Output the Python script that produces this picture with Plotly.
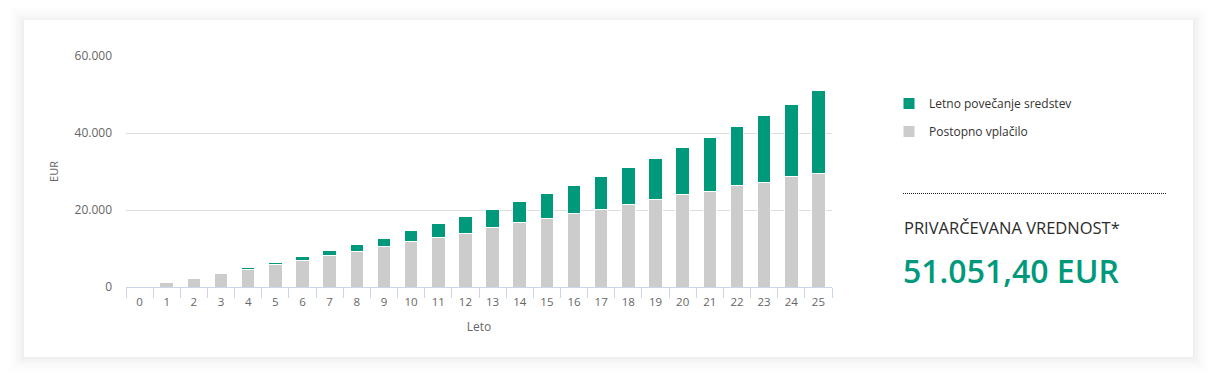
import plotly.graph_objects as go

years = [str(i) for i in range(26)]
vplacilo = [0, 1200, 2250, 3450, 4670, 5870, 7000, 8300, 9330, 10600, 11750, 12970, 14000,
            15560, 16860, 17900, 19200, 20200, 21500, 22600, 23900, 24900, 26300, 27200, 28600, 29570]
povecanje = [0, 0, 0, 0, 430, 500, 950, 1200, 1730, 2000, 2950, 3500, 4300,
             4500, 5300, 6400, 7200, 8500, 9500, 10800, 12300, 13900, 15400, 17300, 18800, 21481]
ytickvals = [0, 20000, 40000, 60000]
yticktext = ["0", "20.000", "40.000", "60.000"]
total_label = "51.051,40 EUR"
title_label = "PRIVARČEVANA VREDNOST*"

W, H = 1225, 386
GREEN = "#00997b"
GRAY = "#cccccc"
FONT = "Open Sans"

def px(x):
    return x / W

def py(y):
    return 1 - y / H

fig = go.Figure()
fig.add_trace(go.Bar(x=years, y=vplacilo, name="Postopno vplačilo", marker_color=GRAY,
                     marker_line_color="white", marker_line_width=1, legendgroup="a",
                     legendrank=2, hoverinfo="x+y"))
fig.add_trace(go.Bar(x=years, y=povecanje, name="Letno povečanje sredstev", marker_color=GREEN,
                     marker_line_color="white", marker_line_width=1, legendgroup="b",
                     legendrank=1, hoverinfo="x+y"))

shapes = []
# card shadow
for i, op in enumerate([0.02, 0.016, 0.012, 0.009, 0.006]):
    d = 2 + i * 3
    shapes.append(dict(type="rect", xref="paper", yref="paper", layer="below",
                       x0=px(24 - d), x1=px(1193 + d), y0=py(357 + d), y1=py(20 - d + 2),
                       fillcolor=f"rgba(0,0,0,{op})", line_width=0))
shapes.append(dict(type="rect", xref="paper", yref="paper", layer="below",
                   x0=px(24), x1=px(1193), y0=py(357), y1=py(20),
                   fillcolor="white", line_width=0))
# dotted separator
shapes.append(dict(type="line", xref="paper", yref="paper",
                   x0=px(903), x1=px(1166), y0=py(193.5), y1=py(193.5),
                   line=dict(color="#222222", width=1, dash="1px,1px")))

annotations = [
    dict(text=title_label, xref="paper", yref="paper", x=px(902), y=py(227),
         xanchor="left", yanchor="middle", showarrow=False,
         font=dict(family=FONT, size=16.5, color="#2b2b2b")),
    dict(text=total_label, xref="paper", yref="paper", x=px(901), y=py(270),
         xanchor="left", yanchor="middle", showarrow=False,
         font=dict(family=FONT, size=32, color=GREEN, weight=600)),
]

fig.update_layout(
    width=W, height=H,
    margin=dict(l=0, r=0, t=0, b=0, pad=0, autoexpand=False),
    paper_bgcolor="white", plot_bgcolor="white",
    barmode="stack", bargap=0.5,
    font=dict(family=FONT, size=11, color="#666666"),
    shapes=shapes, annotations=annotations,
    showlegend=True,
    legend=dict(x=px(889), y=py(89), xanchor="left", yanchor="top",
                traceorder="grouped", tracegroupgap=9,
                font=dict(family=FONT, size=12, color="#333333"),
                bgcolor="rgba(0,0,0,0)"),
    xaxis=dict(domain=[px(126), px(832)], type="category", automargin=False,
               showline=True, linecolor="#ccd6eb", linewidth=1,
               ticks="outside", tickson="boundaries", ticklen=10, tickcolor="#ccd6eb",
               ticklabelstandoff=4,
               showgrid=False, tickfont=dict(size=11.5, color="#666666"),
               title=dict(text="Leto", font=dict(size=12, color="#666666"), standoff=14),
               anchor="y"),
    yaxis=dict(domain=[py(287), py(56)], range=[0, 60000], automargin=False,
               tickvals=ytickvals, ticktext=yticktext,
               showgrid=True, gridcolor="#dddddd", gridwidth=1, zeroline=False,
               showline=False, ticks="", ticklabelstandoff=13,
               tickfont=dict(size=12, color="#666666"),
               title=dict(text="EUR", font=dict(size=11, color="#666666"), standoff=13),
               anchor="x"),
)

fig.write_html("out.html", config={"displayModeBar": False})

# remove default page margin so the figure fills the window exactly
with open("out.html", "r", encoding="utf-8") as f:
    html = f.read()
css = ("<style>html,body{margin:0;padding:0;overflow:hidden;height:386px;width:1225px;}"
       ".plotly-graph-div{position:absolute;top:0;left:0;}</style>")
html = html.replace("<head>", "<head>" + css, 1)
with open("out.html", "w", encoding="utf-8") as f:
    f.write(html)
